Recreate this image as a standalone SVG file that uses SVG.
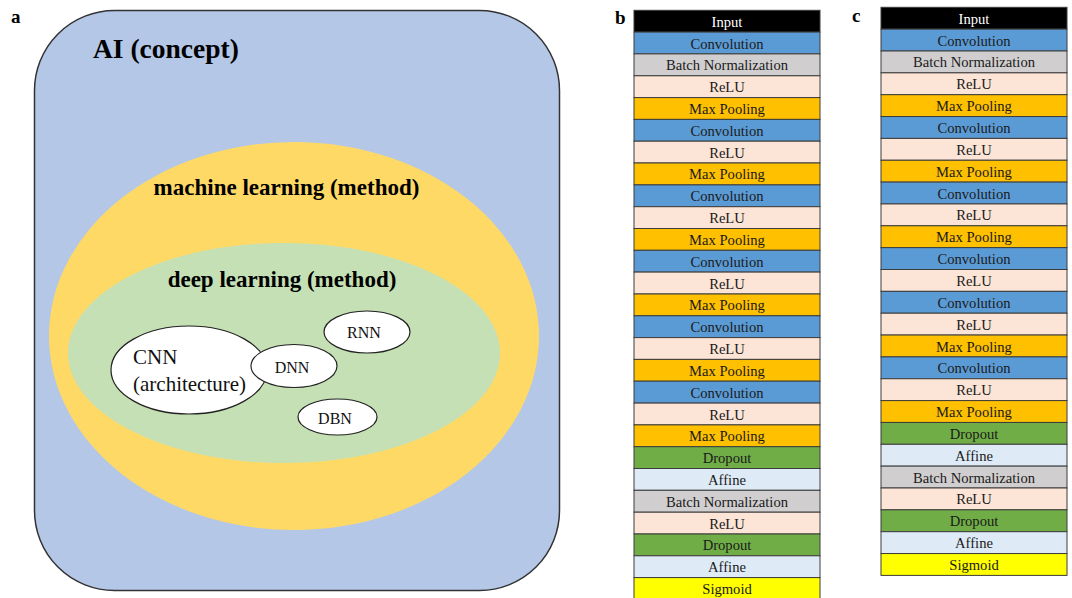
<svg xmlns="http://www.w3.org/2000/svg" width="1072" height="598" viewBox="0 0 1072 598">
<style>
.lbl{font-family:"Liberation Serif","Times New Roman",serif;font-weight:bold;fill:#000}
.t{font-family:"Liberation Serif","Times New Roman",serif;font-size:14.6px;fill:#1a1a1a;text-anchor:middle;dominant-baseline:central}
.r{stroke:#3c3c3c;stroke-width:1}
.in{fill:#000}.cv{fill:#5B9BD5}.bn{fill:#D0CECE}.re{fill:#FCE4D6}.mp{fill:#FFC000}.dr{fill:#70AD47}.af{fill:#DEEBF7}.sg{fill:#FFFF00}
.wt{fill:#fff}
.node{fill:#fff;stroke:#222;stroke-width:1.2}
.nt{font-family:"Liberation Serif","Times New Roman",serif;fill:#111}
</style>
<rect width="1072" height="598" fill="#fff"/>

<g id="panel-a">
  <text class="lbl" x="11" y="23" font-size="19">a</text>
  <g id="ai">
    <rect x="34.5" y="10.5" width="525" height="580" rx="80" ry="80" fill="#B4C7E7" stroke="#333" stroke-width="1.5"/>
    <text class="lbl" x="93" y="58" font-size="27.5">AI (concept)</text>
  </g>
  <g id="ml">
    <ellipse cx="294" cy="336" rx="245" ry="194" fill="#FFD966"/>
    <text class="lbl" x="286.5" y="195" font-size="23" text-anchor="middle">machine learning (method)</text>
  </g>
  <g id="dl">
    <ellipse cx="284" cy="353" rx="216" ry="110" fill="#C5E0B4"/>
    <text class="lbl" x="282" y="287" font-size="23" text-anchor="middle">deep learning (method)</text>
  </g>
  <g id="cnn">
    <ellipse cx="189" cy="370" rx="78" ry="44" class="node"/>
    <text class="nt" x="133" y="364" font-size="21">CNN</text>
    <text class="nt" x="133" y="391" font-size="21">(architecture)</text>
  </g>
  <g id="dnn">
    <ellipse cx="294" cy="366" rx="43" ry="21.5" class="node"/>
    <text class="nt" x="292" y="373" font-size="16" text-anchor="middle">DNN</text>
  </g>
  <g id="rnn">
    <ellipse cx="367" cy="332" rx="43" ry="21" class="node"/>
    <text class="nt" x="364" y="338" font-size="16" text-anchor="middle">RNN</text>
  </g>
  <g id="dbn">
    <ellipse cx="337.5" cy="417" rx="39.5" ry="18" class="node"/>
    <text class="nt" x="335" y="424" font-size="16" text-anchor="middle">DBN</text>
  </g>
</g>

<g id="connectors"></g>

<g id="panel-b">
  <text class="lbl" x="615" y="24" font-size="19">b</text>
  <g class="r">
    <rect class="in" x="634" y="10.3" width="186" height="21.8"/>
    <rect class="cv" x="634" y="32.1" width="186" height="21.8"/>
    <rect class="bn" x="634" y="53.9" width="186" height="21.9"/>
    <rect class="re" x="634" y="75.8" width="186" height="21.8"/>
    <rect class="mp" x="634" y="97.6" width="186" height="21.8"/>
    <rect class="cv" x="634" y="119.4" width="186" height="21.8"/>
    <rect class="re" x="634" y="141.2" width="186" height="21.8"/>
    <rect class="mp" x="634" y="163.0" width="186" height="21.9"/>
    <rect class="cv" x="634" y="184.9" width="186" height="21.8"/>
    <rect class="re" x="634" y="206.7" width="186" height="21.8"/>
    <rect class="mp" x="634" y="228.5" width="186" height="21.8"/>
    <rect class="cv" x="634" y="250.3" width="186" height="21.8"/>
    <rect class="re" x="634" y="272.1" width="186" height="21.9"/>
    <rect class="mp" x="634" y="294.0" width="186" height="21.8"/>
    <rect class="cv" x="634" y="315.8" width="186" height="21.8"/>
    <rect class="re" x="634" y="337.6" width="186" height="21.8"/>
    <rect class="mp" x="634" y="359.4" width="186" height="21.8"/>
    <rect class="cv" x="634" y="381.2" width="186" height="21.9"/>
    <rect class="re" x="634" y="403.1" width="186" height="21.8"/>
    <rect class="mp" x="634" y="424.9" width="186" height="21.8"/>
    <rect class="dr" x="634" y="446.7" width="186" height="21.8"/>
    <rect class="af" x="634" y="468.5" width="186" height="21.8"/>
    <rect class="bn" x="634" y="490.3" width="186" height="21.9"/>
    <rect class="re" x="634" y="512.2" width="186" height="21.8"/>
    <rect class="dr" x="634" y="534.0" width="186" height="21.8"/>
    <rect class="af" x="634" y="555.8" width="186" height="21.8"/>
    <rect class="sg" x="634" y="577.6" width="186" height="21.8"/>
  </g>
  <text class="t wt" x="727" y="21.7">Input</text>
  <text class="t" x="727" y="43.5">Convolution</text>
  <text class="t" x="727" y="65.3">Batch Normalization</text>
  <text class="t" x="727" y="87.2">ReLU</text>
  <text class="t" x="727" y="109.0">Max Pooling</text>
  <text class="t" x="727" y="130.8">Convolution</text>
  <text class="t" x="727" y="152.6">ReLU</text>
  <text class="t" x="727" y="174.4">Max Pooling</text>
  <text class="t" x="727" y="196.3">Convolution</text>
  <text class="t" x="727" y="218.1">ReLU</text>
  <text class="t" x="727" y="239.9">Max Pooling</text>
  <text class="t" x="727" y="261.7">Convolution</text>
  <text class="t" x="727" y="283.5">ReLU</text>
  <text class="t" x="727" y="305.4">Max Pooling</text>
  <text class="t" x="727" y="327.2">Convolution</text>
  <text class="t" x="727" y="349.0">ReLU</text>
  <text class="t" x="727" y="370.8">Max Pooling</text>
  <text class="t" x="727" y="392.6">Convolution</text>
  <text class="t" x="727" y="414.5">ReLU</text>
  <text class="t" x="727" y="436.3">Max Pooling</text>
  <text class="t" x="727" y="458.1">Dropout</text>
  <text class="t" x="727" y="479.9">Affine</text>
  <text class="t" x="727" y="501.7">Batch Normalization</text>
  <text class="t" x="727" y="523.6">ReLU</text>
  <text class="t" x="727" y="545.4">Dropout</text>
  <text class="t" x="727" y="567.2">Affine</text>
  <text class="t" x="727" y="589.0">Sigmoid</text>
</g>

<g id="panel-c">
  <text class="lbl" x="852" y="22" font-size="19">c</text>
  <g class="r">
    <rect class="in" x="881" y="7.3" width="186" height="21.85"/>
    <rect class="cv" x="881" y="29.15" width="186" height="21.85"/>
    <rect class="bn" x="881" y="51.0" width="186" height="21.85"/>
    <rect class="re" x="881" y="72.85" width="186" height="21.85"/>
    <rect class="mp" x="881" y="94.7" width="186" height="21.85"/>
    <rect class="cv" x="881" y="116.55" width="186" height="21.85"/>
    <rect class="re" x="881" y="138.4" width="186" height="21.85"/>
    <rect class="mp" x="881" y="160.25" width="186" height="21.85"/>
    <rect class="cv" x="881" y="182.1" width="186" height="21.85"/>
    <rect class="re" x="881" y="203.95" width="186" height="21.85"/>
    <rect class="mp" x="881" y="225.8" width="186" height="21.85"/>
    <rect class="cv" x="881" y="247.65" width="186" height="21.85"/>
    <rect class="re" x="881" y="269.5" width="186" height="21.85"/>
    <rect class="cv" x="881" y="291.35" width="186" height="21.85"/>
    <rect class="re" x="881" y="313.2" width="186" height="21.85"/>
    <rect class="mp" x="881" y="335.05" width="186" height="21.85"/>
    <rect class="cv" x="881" y="356.9" width="186" height="21.85"/>
    <rect class="re" x="881" y="378.75" width="186" height="21.85"/>
    <rect class="mp" x="881" y="400.6" width="186" height="21.85"/>
    <rect class="dr" x="881" y="422.45" width="186" height="21.85"/>
    <rect class="af" x="881" y="444.3" width="186" height="21.85"/>
    <rect class="bn" x="881" y="466.15" width="186" height="21.85"/>
    <rect class="re" x="881" y="488.0" width="186" height="21.85"/>
    <rect class="dr" x="881" y="509.85" width="186" height="21.85"/>
    <rect class="af" x="881" y="531.7" width="186" height="21.85"/>
    <rect class="sg" x="881" y="553.55" width="186" height="21.85"/>
  </g>
  <text class="t wt" x="974" y="18.7">Input</text>
  <text class="t" x="974" y="40.6">Convolution</text>
  <text class="t" x="974" y="62.4">Batch Normalization</text>
  <text class="t" x="974" y="84.3">ReLU</text>
  <text class="t" x="974" y="106.1">Max Pooling</text>
  <text class="t" x="974" y="128.0">Convolution</text>
  <text class="t" x="974" y="149.8">ReLU</text>
  <text class="t" x="974" y="171.7">Max Pooling</text>
  <text class="t" x="974" y="193.5">Convolution</text>
  <text class="t" x="974" y="215.4">ReLU</text>
  <text class="t" x="974" y="237.2">Max Pooling</text>
  <text class="t" x="974" y="259.1">Convolution</text>
  <text class="t" x="974" y="280.9">ReLU</text>
  <text class="t" x="974" y="302.8">Convolution</text>
  <text class="t" x="974" y="324.6">ReLU</text>
  <text class="t" x="974" y="346.5">Max Pooling</text>
  <text class="t" x="974" y="368.3">Convolution</text>
  <text class="t" x="974" y="390.2">ReLU</text>
  <text class="t" x="974" y="412.0">Max Pooling</text>
  <text class="t" x="974" y="433.9">Dropout</text>
  <text class="t" x="974" y="455.7">Affine</text>
  <text class="t" x="974" y="477.6">Batch Normalization</text>
  <text class="t" x="974" y="499.4">ReLU</text>
  <text class="t" x="974" y="521.3">Dropout</text>
  <text class="t" x="974" y="543.1">Affine</text>
  <text class="t" x="974" y="565.0">Sigmoid</text>
</g>
</svg>
